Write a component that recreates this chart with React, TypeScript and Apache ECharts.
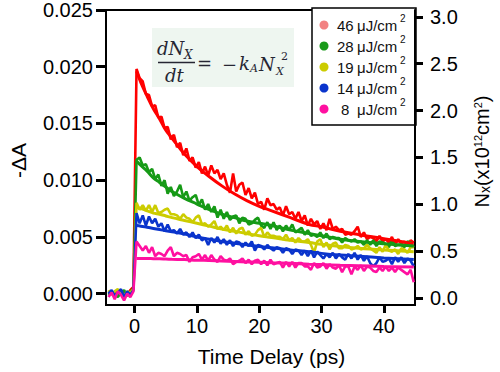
import React, { useEffect, useRef } from "react";
import * as echarts from "echarts";

// sampling grid of the measured traces (ps)
const T_START = -4.2;
const T_STEP = 0.5;

// measured -ΔA traces, in units of 10^-3 (pre-zero 9 points, then t = 0.3 ... 44.8 ps)
const data46 = [
  0.2, 0.1, -0.2, 0.3, 0.0, 0.2, -0.1, 0.3, 0.6,
  19.8, 19.0, 18.7, 17.6, 17.5, 16.5, 16.6, 15.5, 15.6, 14.6,
  14.7, 13.6, 14.0, 12.9, 13.3, 12.2, 12.8, 11.7, 12.0, 11.1,
  11.6, 10.6, 11.2, 10.4, 11.3, 10.6, 10.9, 10.1, 10.6, 9.6,
  8.9, 10.6, 9.0, 9.6, 9.8, 8.7, 9.3, 8.4, 8.9, 7.9,
  8.1, 7.4, 8.4, 7.8, 7.9, 7.4, 7.6, 6.9, 7.7, 7.0,
  7.2, 6.6, 7.2, 6.4, 6.9, 6.0, 6.6, 6.1, 6.4, 5.7,
  6.2, 5.6, 6.6, 5.7, 5.9, 5.6, 5.7, 5.2, 5.3, 5.2,
  5.5, 5.9, 5.0, 5.4, 4.8, 5.0, 4.9, 4.6, 5.1, 4.6,
  4.8, 4.5, 5.0, 4.3, 4.8, 4.4, 4.6, 4.2, 4.7, 4.5,
];
const data28 = [
  -0.1, 0.2, 0.0, -0.3, 0.1, 0.3, -0.2, 0.1, 0.5,
  11.8, 12.0, 11.3, 11.4, 10.7, 11.0, 10.1, 10.5, 9.5, 10.0,
  8.8, 9.4, 8.6, 9.0, 9.6, 8.5, 9.0, 8.2, 8.5, 8.7,
  7.8, 8.3, 7.4, 7.9, 7.2, 7.7, 6.7, 7.4, 6.6, 7.2,
  6.5, 6.8, 6.9, 6.2, 6.7, 6.6, 6.1, 6.2, 6.5, 6.7,
  6.0, 5.8, 6.3, 5.7, 6.3, 5.6, 6.0, 5.5, 6.0, 5.6,
  6.1, 5.4, 5.6, 5.8, 5.2, 5.6, 5.1, 5.2, 5.0, 5.4,
  4.9, 5.3, 4.8, 5.0, 4.9, 4.9, 4.5, 4.9, 4.7, 4.6,
  4.8, 4.5, 4.6, 4.3, 4.7, 4.3, 4.7, 4.2, 4.6, 4.5,
  4.4, 4.1, 4.7, 4.2, 4.3, 4.3, 4.1, 4.6, 4.5, 4.1,
];
const data19 = [
  0.3, -0.1, 0.2, 0.4, 0.0, -0.2, 0.2, 0.1, 0.4,
  8.0, 7.4, 7.8, 7.3, 7.8, 7.2, 7.8, 7.1, 7.2, 7.4,
  7.5, 7.0, 7.0, 6.9, 6.6, 7.0, 6.7, 6.6, 6.3, 6.7,
  6.9, 6.1, 6.2, 5.9, 6.1, 6.4, 5.7, 5.9, 5.6, 6.0,
  5.4, 5.8, 5.3, 5.7, 5.8, 5.2, 5.5, 5.1, 5.2, 5.6,
  5.8, 5.0, 5.4, 5.1, 5.1, 5.0, 5.0, 4.8, 5.2, 4.7,
  4.9, 4.5, 4.9, 4.6, 4.6, 4.8, 4.3, 3.6, 4.6, 4.8,
  4.1, 4.5, 3.9, 4.4, 4.5, 4.0, 4.0, 4.3, 4.2, 3.9,
  4.0, 4.2, 3.9, 4.0, 4.3, 4.0, 3.8, 3.6, 4.1, 3.7,
  4.3, 3.8, 3.7, 3.9, 3.5, 4.0, 3.9, 3.6, 4.1, 4.1,
];
const data14 = [
  0.0, 0.3, -0.2, 0.1, 0.4, -0.3, 0.2, -0.1, 0.3,
  7.1, 6.2, 6.9, 6.0, 6.8, 6.2, 6.6, 5.9, 6.2, 5.5,
  6.1, 5.5, 5.6, 5.3, 5.7, 5.2, 5.4, 5.0, 5.4, 4.9,
  5.2, 4.7, 4.9, 4.3, 4.9, 4.5, 5.0, 4.4, 4.8, 4.3,
  4.7, 4.2, 4.6, 4.5, 4.1, 4.5, 4.2, 4.6, 3.8, 4.3,
  4.2, 3.9, 4.3, 4.0, 3.8, 4.1, 4.0, 3.6, 4.0, 3.9,
  3.5, 3.9, 3.8, 3.4, 3.8, 3.3, 3.8, 3.2, 3.7, 3.4,
  3.1, 3.5, 3.2, 3.6, 3.1, 3.5, 3.2, 3.0, 3.5, 3.1,
  3.6, 3.0, 3.4, 2.9, 3.3, 2.7, 2.4, 2.7, 3.2, 2.8,
  2.9, 3.1, 2.6, 3.2, 2.8, 3.2, 2.7, 3.1, 2.9, 2.4,
];
const data8 = [
  -0.3, 0.1, -0.5, 0.2, -0.1, -0.6, 0.0, -0.3, 0.2,
  4.6, 4.2, 3.8, 4.2, 3.6, 4.1, 3.3, 3.6, 3.5, 3.3,
  3.8, 4.1, 3.3, 3.6, 3.5, 3.3, 3.4, 2.8, 3.2, 3.3,
  3.5, 3.0, 3.4, 2.9, 3.4, 3.0, 2.8, 3.3, 3.0, 2.9,
  3.1, 2.6, 2.8, 2.9, 3.1, 2.7, 3.0, 2.6, 2.9, 3.0,
  2.6, 2.9, 2.5, 3.0, 2.6, 2.7, 2.8, 2.3, 2.8, 2.4,
  2.8, 2.3, 2.7, 2.7, 2.4, 2.4, 2.1, 2.7, 2.3, 2.4,
  2.7, 2.2, 2.6, 2.3, 2.2, 2.5, 1.9, 2.4, 2.4, 1.7,
  2.4, 2.1, 2.5, 2.0, 2.4, 2.3, 2.0, 1.9, 2.3, 2.0,
  2.4, 2.0, 2.3, 1.9, 2.3, 2.1, 1.9, 1.7, 2.1, 1.0,
];

// fitted second-order decays, in units of 10^-3
const fitTimes = [0.3, 1, 2, 3, 4, 5, 6, 8, 10, 12, 14, 16, 18, 20, 22, 25, 28, 30, 33, 36, 40, 44.8];
const fit46 = [19.6, 18.6, 17.4, 16.3, 15.4, 14.4, 13.7, 12.3, 11.2, 10.3, 9.5, 8.8, 8.2, 7.7, 7.3, 6.7, 6.1, 5.9, 5.5, 5.2, 4.85, 4.4];
const fit28 = [11.7, 11.3, 10.8, 10.2, 9.8, 9.4, 9.0, 8.4, 7.9, 7.4, 7.0, 6.7, 6.4, 6.2, 6.0, 5.6, 5.3, 5.1, 4.8, 4.6, 4.4, 4.2];
const fit19 = [7.6, 7.5, 7.3, 7.1, 7.0, 6.85, 6.7, 6.45, 6.2, 5.95, 5.7, 5.5, 5.3, 5.1, 4.95, 4.7, 4.5, 4.35, 4.15, 4.0, 3.85, 3.7];
const fit14 = [6.0, 5.95, 5.85, 5.75, 5.65, 5.55, 5.45, 5.25, 5.0, 4.8, 4.6, 4.45, 4.3, 4.15, 4.05, 3.85, 3.7, 3.55, 3.4, 3.3, 3.15, 3.0];
const fit8 = [3.1, 3.1, 3.1, 3.08, 3.07, 3.05, 3.03, 3.0, 2.95, 2.92, 2.88, 2.84, 2.8, 2.76, 2.72, 2.67, 2.6, 2.56, 2.5, 2.46, 2.4, 2.35];

// ticks
const xTicks = [0, 10, 20, 30, 40];
const leftTicks = [0, 5, 10, 15, 20, 25]; // ΔA ×10^-3
const rightTicks = [0, 0.5, 1.0, 1.5, 2.0, 2.5, 3.0];

// legend
const fluences = ["46", "28", "19", "14", "8"];
const lineColors = ["#ff0000", "#169a16", "#cccc00", "#0a34cc", "#ff10a0"];
const legendColors = ["#f28282", "#1a9a1a", "#cccc00", "#0a34cc", "#ff10a0"];

const FONT = "Liberation Sans, Arial, sans-serif";
const MATH = "DejaVu Serif";

export default function App() {
  const ref = useRef<HTMLDivElement>(null);
  useEffect(() => {
    if (!ref.current) return;
    const chart = echarts.init(ref.current, undefined, { renderer: "svg" });
    const times = data46.map((_, i) => +(T_START + i * T_STEP).toFixed(2));
    const measured = [data46, data28, data19, data14, data8];
    const fits = [fit46, fit28, fit19, fit14, fit8];

    const series: any[] = [];
    measured.forEach((arr, k) => {
      series.push({
        name: fluences[k] + " data",
        type: "line",
        data: arr.map((v, i) => [times[i], v]),
        showSymbol: false,
        lineStyle: { color: lineColors[k], width: 2.6 },
        z: 2 + k * 0.1,
      });
    });
    fits.forEach((arr, k) => {
      series.push({
        name: fluences[k] + " fit",
        type: "line",
        data: arr.map((v, i) => [fitTimes[i], v]),
        smooth: 0.4,
        showSymbol: false,
        lineStyle: { color: lineColors[k], width: 3 },
        z: 3,
      });
    });

    const legendRows = [25, 46, 67, 88, 109];
    const legendEls: any[] = [
      {
        type: "rect",
        shape: { x: 312, y: 8, width: 104, height: 117 },
        style: { fill: "#fff", stroke: "#000", lineWidth: 1.5 },
      },
    ];
    fluences.forEach((f, k) => {
      const y = legendRows[k];
      legendEls.push({ type: "circle", shape: { cx: 324, cy: y, r: 4.5 }, style: { fill: legendColors[k] } });
      legendEls.push({
        type: "text",
        x: f.length === 1 ? 341 : 337,
        y,
        style: { text: f, font: `15px ${FONT}`, fill: "#111", align: "left", verticalAlign: "middle", textAlign: "left", textVerticalAlign: "middle" },
      });
      legendEls.push({
        type: "text",
        x: 357,
        y,
        style: { text: "μJ/cm", font: `15px ${FONT}`, fill: "#111", align: "left", verticalAlign: "middle", textAlign: "left", textVerticalAlign: "middle" },
      });
      legendEls.push({
        type: "text",
        x: 400,
        y: y - 7,
        style: { text: "2", font: `10px ${FONT}`, fill: "#111", align: "left", verticalAlign: "middle", textAlign: "left", textVerticalAlign: "middle" },
      });
    });

    const mt = (text: string, x: number, y: number, size: number, italic = true) => ({
      type: "text",
      x,
      y,
      style: {
        text,
        font: `${italic ? "italic " : ""}${size}px ${MATH}`,
        fill: "#262633",
        align: "left",
        verticalAlign: "middle",
        textAlign: "left",
        textVerticalAlign: "middle",
      },
    });

    const equation: any[] = [
      { type: "rect", shape: { x: 152, y: 28, width: 142, height: 59 }, style: { fill: "#eef6f0" } },
      mt("dN", 157, 48, 18),
      mt("X", 184, 55, 12),
      { type: "line", shape: { x1: 158, y1: 62.5, x2: 195, y2: 62.5 }, style: { stroke: "#262633", lineWidth: 1.3 } },
      mt("dt", 165, 75, 18),
      mt("=", 197, 63, 18, false),
      mt("−", 222, 64, 18, false),
      mt("k", 239, 63, 18),
      mt("A", 250, 68, 11),
      mt("N", 259, 64, 18),
      mt("X", 276, 71, 11),
      mt("2", 281, 56, 11, false),
    ];

    const option: any = {
      animation: false,
      backgroundColor: "#fff",
      grid: { left: 99, right: 84, top: 8, bottom: 60, show: true, borderColor: "#000", borderWidth: 2, backgroundColor: "transparent" },
      xAxis: {
        type: "value",
        min: -4.6,
        max: 45,
        splitLine: { show: false },
        axisLine: { show: true, onZero: false, lineStyle: { color: "#000", width: 2 } },
        axisTick: { show: true, length: 8, customValues: xTicks, lineStyle: { color: "#000", width: 3 } },
        axisLabel: { customValues: xTicks, margin: 11, fontSize: 20, color: "#000", fontFamily: FONT },
        name: "Time Delay (ps)",
        nameLocation: "middle",
        nameGap: 41,
        nameTextStyle: { fontSize: 21, color: "#000", fontFamily: FONT, padding: [0, 0, 0, 22] },
      },
      yAxis: [
        {
          type: "value",
          position: "left",
          min: -1,
          max: 25,
          splitLine: { show: false },
          axisLine: { show: true, onZero: false, lineStyle: { color: "#000", width: 2 } },
          axisTick: { show: true, length: 10, customValues: leftTicks, lineStyle: { color: "#000", width: 3 } },
          axisLabel: {
            customValues: leftTicks,
            margin: 13,
            fontSize: 20,
            color: "#000",
            fontFamily: FONT,
            formatter: (v: number) => (v / 1000).toFixed(3),
          },
          name: "-ΔA",
          nameLocation: "middle",
          nameRotate: 90,
          nameGap: 77,
          nameTextStyle: { fontSize: 21, color: "#000", fontFamily: FONT, padding: [0, 6, 0, 0] },
        },
        {
          type: "value",
          position: "right",
          min: -0.075,
          max: 3.073,
          splitLine: { show: false },
          axisLine: { show: true, onZero: false, lineStyle: { color: "#000", width: 2 } },
          axisTick: { show: true, length: 8, customValues: rightTicks, lineStyle: { color: "#000", width: 3 } },
          axisLabel: {
            customValues: rightTicks,
            margin: 15,
            fontSize: 20,
            color: "#000",
            fontFamily: FONT,
            formatter: (v: number) => v.toFixed(1),
          },
          name: "{m|N}{s|x}{m|(x10}{p|12}{m|cm}{p|2}{m|)}",
          nameLocation: "middle",
          nameRotate: 90,
          nameGap: 57,
          nameTextStyle: {
            fontSize: 20,
            color: "#000",
            fontFamily: FONT,
            padding: [0, 0, 0, 12],
            rich: {
              m: { fontSize: 20, fontFamily: FONT, color: "#000" },
              s: { fontSize: 14, fontFamily: FONT, color: "#000", verticalAlign: "bottom" },
              p: { fontSize: 11, fontFamily: FONT, color: "#000", verticalAlign: "top" },
            },
          },
        },
      ],
      graphic: [
        { type: "group", z: 1, children: equation },
        { type: "group", z: 100, children: legendEls },
      ],
      series,
    };
    chart.setOption(option);
    return () => chart.dispose();
  }, []);
  return <div ref={ref} style={{ position: "absolute", left: 0, top: 0, width: 500, height: 372, background: "#fff" }} />;
}
